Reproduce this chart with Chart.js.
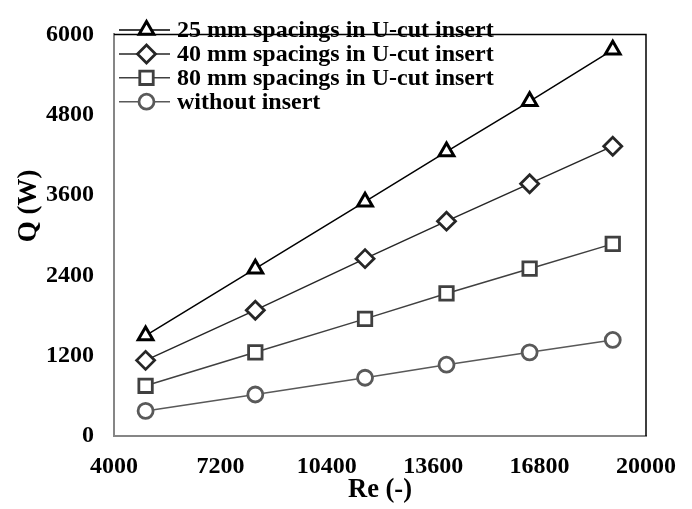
<!DOCTYPE html>
<html>
<head>
<meta charset="utf-8">
<script src="https://cdn.jsdelivr.net/npm/chart.js@4.4.1/dist/chart.umd.min.js"></script>
<style>
  html, body { margin: 0; padding: 0; background: #fff; }
  #wrap { width: 692px; height: 509px; }
</style>
</head>
<body>
<div id="wrap"><canvas id="chart"></canvas></div>
<script>
// --- datos ---
const reynolds = [4950, 8250, 11550, 14000, 16500, 19000];
const q25mm = [1500, 2500, 3500, 4250, 5000, 5770];
const q40mm = [1130, 1880, 2650, 3210, 3770, 4330];
const q80mm = [750, 1250, 1750, 2130, 2500, 2870];
const qPlain = [375, 620, 870, 1065, 1250, 1435];

const seriesNames = [
    '25 mm spacings in U-cut insert',
    '40 mm spacings in U-cut insert',
    '80 mm spacings in U-cut insert',
    'without insert'
];
const xTicks = [4000, 7200, 10400, 13600, 16800, 20000];
const yTicks = [0, 1200, 2400, 3600, 4800, 6000];

const FONT = "'Liberation Serif', 'Times New Roman', serif";

const toPoints = (ys) => ys.map((y, i) => ({ x: reynolds[i], y: y }));

const makeSeries = (label, ys, color, style, radius, markerWidth) => ({
    label: label,
    data: toPoints(ys),
    borderColor: color,
    borderWidth: 1.5,
    pointStyle: style,
    pointRadius: radius,
    pointHoverRadius: radius,
    pointBorderColor: color,
    pointBackgroundColor: '#fff',
    pointBorderWidth: markerWidth,
    tension: 0,
    clip: false
});

// marco superior/derecho, leyenda con línea + marcador y título del eje Y
const framePlugin = {
    id: 'framePlugin',
    afterDatasetsDraw(chart) {
        const { ctx, chartArea: a } = chart;
        ctx.save();
        ctx.strokeStyle = '#000';
        ctx.lineWidth = 1.5;
        ctx.beginPath();
        ctx.moveTo(a.left, a.top);
        ctx.lineTo(a.right, a.top);
        ctx.lineTo(a.right, a.bottom);
        ctx.stroke();

        // leyenda
        ctx.font = 'bold 24px ' + FONT;
        ctx.textBaseline = 'middle';
        ctx.textAlign = 'left';
        chart.data.datasets.forEach((ds, i) => {
            const y = 30 + i * 23.9;
            ctx.strokeStyle = ds.borderColor;
            ctx.lineWidth = ds.borderWidth;
            ctx.beginPath();
            ctx.moveTo(119, y);
            ctx.lineTo(170, y);
            ctx.stroke();
            ctx.fillStyle = '#fff';
            ctx.lineWidth = ds.pointBorderWidth;
            Chart.helpers.drawPoint(ctx, {
                pointStyle: ds.pointStyle,
                radius: ds.pointRadius,
                rotation: 0,
                borderWidth: ds.pointBorderWidth
            }, 146.5, y);
            ctx.fillStyle = '#000';
            ctx.fillText(ds.label, 177, y + 1);
        });

        // título eje Y
        ctx.translate(29, 206);
        ctx.rotate(-Math.PI / 2);
        ctx.font = 'bold 27px ' + FONT;
        ctx.textAlign = 'center';
        ctx.fillStyle = '#000';
        ctx.fillText('Q (W)', 0, 0);
        ctx.restore();
    }
};

const ctx = document.getElementById('chart').getContext('2d');
const chart = new Chart(ctx, {
    type: 'line',
    data: {
        datasets: [
            makeSeries(seriesNames[0], q25mm, '#000000', 'triangle', 8.5, 3),
            makeSeries(seriesNames[1], q40mm, '#262626', 'rectRot', 9, 2.8),
            makeSeries(seriesNames[2], q80mm, '#404040', 'rect', 9.5, 2.8),
            makeSeries(seriesNames[3], qPlain, '#595959', 'circle', 7.5, 2.8)
        ]
    },
    options: {
        responsive: true,
        maintainAspectRatio: false,
        animation: false,
        layout: { padding: { left: 0, top: 21, right: 44, bottom: 0 } },
        plugins: {
            legend: { display: false },
            tooltip: { enabled: false }
        },
        scales: {
            x: {
                type: 'linear',
                min: 4000,
                max: 20000,
                afterBuildTicks: (scale) => { scale.ticks = xTicks.map(v => ({ value: v })); },
                afterFit: (scale) => { scale.height = 73; },
                grid: { display: false, drawTicks: false },
                border: { display: true, color: '#868686', width: 2 },
                ticks: {
                    padding: 16,
                    color: '#000',
                    font: { family: FONT, size: 24, weight: 'bold' },
                    callback: (v) => String(v)
                },
                title: {
                    display: true,
                    text: 'Re (-)',
                    color: '#000',
                    padding: { top: 0, bottom: 3 },
                    font: { family: FONT, size: 26.5, weight: 'bold' }
                }
            },
            y: {
                min: 0,
                max: 6000,
                afterBuildTicks: (scale) => { scale.ticks = yTicks.map(v => ({ value: v })); },
                afterFit: (scale) => { scale.width = 114; },
                grid: { display: false, drawTicks: false },
                border: { display: true, color: '#868686', width: 2 },
                ticks: {
                    padding: 20,
                    color: '#000',
                    font: { family: FONT, size: 24, weight: 'bold' },
                    callback: (v) => String(v)
                }
            }
        }
    },
    plugins: [framePlugin]
});
</script>
</body>
</html>
